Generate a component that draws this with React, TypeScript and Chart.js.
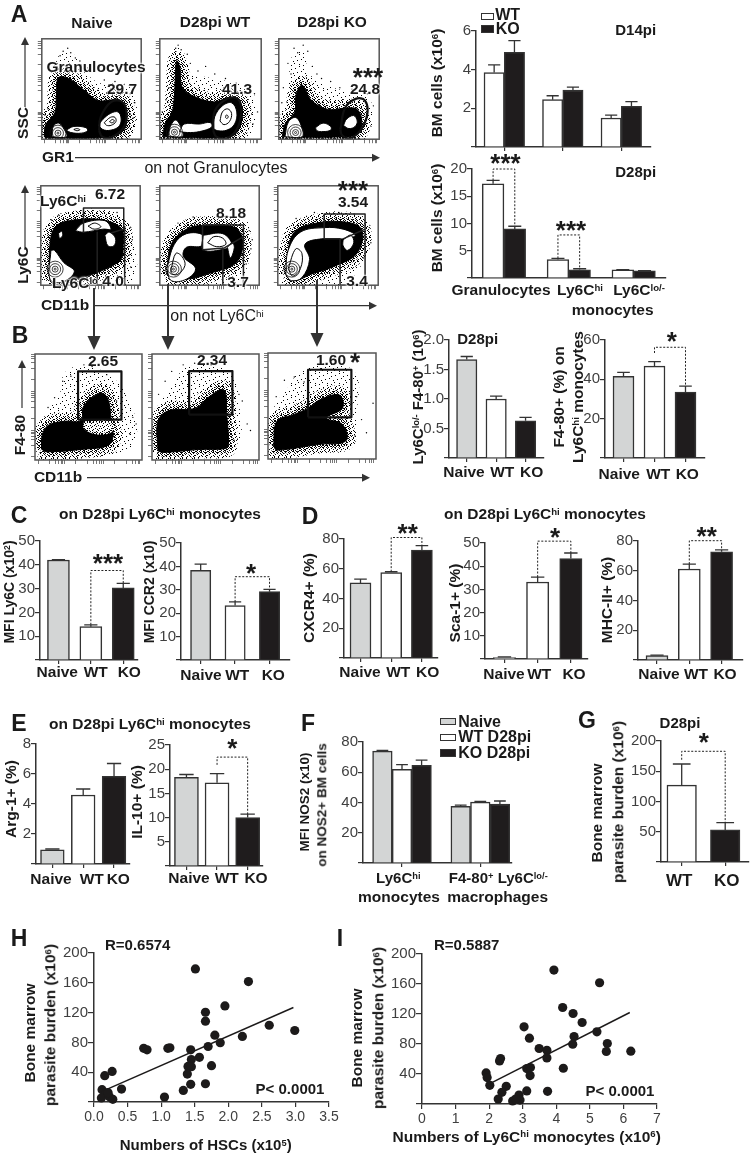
import { useEffect, useRef } from 'react';
import { Chart, registerables } from 'chart.js';
Chart.register(...registerables);
document.body.style.margin = '0';

const FONT = '"Liberation Sans", Arial, sans-serif';
const INK = '#333333';
const GREY = '#d3d5d5';
const WHITE = '#ffffff';
const BLACK = '#1f1c1d';

// ---------- bar data ----------
const cellCategories = ['Granulocytes', 'Ly6C^{hi}', 'Ly6C^{lo/-}'];
const groupCategories = ['Naive', 'WT', 'KO'];
const d14WT = [3.85, 2.45, 1.5];
const d14WTTop = [4.25, 2.65, 1.65];
const d14KO = [4.9, 2.95, 2.1];
const d14KOTop = [5.5, 3.1, 2.35];
const d28WT = [17.3, 3.4, 1.5];
const d28WTTop = [17.9, 3.6, 1.55];
const d28KO = [9, 1.5, 1.3];
const d28KOTop = [9.5, 1.7, 1.35];
const f480Count = [1.67, 1.0, 0.63];
const f480CountTop = [1.72, 1.05, 0.69];
const f480Pct = [41.5, 46.7, 33.5];
const f480PctTop = [43.5, 49, 36.5];
const mfiLy6c = [42, 14, 30.3];
const mfiLy6cTop = [42.2, 14.8, 32.2];
const mfiCcr2 = [38.3, 23.3, 29.2];
const mfiCcr2Top = [41, 24.8, 30.2];
const cxcr4 = [50.5, 57.5, 72.5];
const cxcr4Top = [53, 58, 75.5];
const sca1 = [0.6, 33.2, 43.3];
const sca1Top = [0.9, 35.3, 45.7];
const mhc2 = [3, 61.2, 72.7];
const mhc2Top = [3.3, 64.5, 74];
const arg1 = [0.95, 4.6, 5.85];
const arg1Top = [1.0, 5.0, 6.7];
const il10 = [18.3, 17.2, 10];
const il10Top = [18.9, 19.1, 10.7];
const nos2Categories = ['Ly6C^{hi}', 'F4-80^{+} Ly6C^{lo/-}'];
const nos2Naive = [74, 37.5];
const nos2NaiveTop = [74.5, 38.2];
const nos2WT = [62, 40.3];
const nos2WTTop = [65, 40.8];
const nos2KO = [64.5, 39];
const nos2KOTop = [68, 41];
const burdenCategories = ['WT', 'KO'];
const burden = [127, 53];
const burdenTop = [162, 65];

// ---------- scatter data ----------
const hscX = [1.51, 2.3, 1.95, 1.66, 1.66, 2.61, 2.99, 1.8, 2.21, 1.88, 1.7, 0.74, 0.79, 1.1, 1.13, 1.44, 1.57, 1.45, 1.4, 1.45, 1.75, 1.39, 0.27, 0.16, 1.44, 1.66, 1.33, 0.41, 1.05, 0.12, 0.18, 0.11, 0.23, 0.28, 0.21];
const hscY = [178.6, 161.6, 129, 120.5, 108.5, 103, 96, 89.7, 88, 79.5, 74.5, 72, 70, 72, 72.8, 70, 60, 57, 47.8, 47.3, 48.7, 37.5, 41, 35.3, 23.7, 24.5, 15.6, 17.4, 6.7, 16.5, 11.6, 5.4, 7, 3.6, 12.5];
const hscLineX = [0.19, 2.97];
const hscLineY = [17, 126.8];
const ly6cX = [3.93, 5.29, 4.19, 4.5, 4.77, 3.04, 5.21, 3.2, 4.53, 4.49, 5.52, 5.49, 6.22, 3.49, 3.72, 3.72, 2.34, 2.31, 4.21, 3.12, 3.23, 3.22, 1.91, 1.94, 2.02, 2.51, 2.38, 2.27, 3.12, 3.74, 2.89, 2.7, 2.92, 2.79];
const ly6cY = [178.6, 161.7, 128.7, 120.7, 108.7, 102.9, 96.2, 87.8, 90, 79.7, 80.6, 70, 70.4, 74, 71.7, 61.5, 60.6, 57.5, 47.7, 47.2, 48.6, 37.9, 41.4, 35.2, 24.9, 23.6, 15.6, 6.7, 17.4, 16.9, 12, 4, 5.3, 6.7];
const ly6cLineX = [2.08, 6.19];
const ly6cLineY = [28.5, 122];

// ---------- flow plots: outlines, in display channels ----------
type Shape = [string, number[]];
const flowTicks = [10, 45, 62, 72, 80, 85, 89, 125, 160, 178, 190, 198, 204, 209, 245, 280, 298, 308, 316, 321];
const gr1Naive: Shape[] = [
  ['s', [8, 28, 8, 68, 43, 138, 48, 203, 63, 263, 98, 268, 118, 228, 183, 173, 273, 168, 298, 108, 298, 38, 268, 3, 13, 3]],
  ['k', [8, 8, 13, 48, 43, 88, 48, 148, 55, 203, 88, 200, 133, 166, 183, 128, 218, 128, 253, 131, 276, 98, 271, 33, 223, 8, 33, 4]],
  ['w', [33, 8, 38, 43, 55, 53, 73, 33, 81, 8]],
  ['w', [80, 30, 105, 42, 145, 38, 150, 28, 130, 20, 95, 22]],
  ['l', [105, 32, 115, 35, 125, 31, 115, 28]],
  ['w', [185, 45, 200, 65, 225, 85, 250, 90, 260, 70, 255, 45, 235, 32, 205, 30]],
  ['l', [205, 55, 225, 72, 240, 72, 243, 58, 228, 46, 212, 46]],
  ['l', [222, 58, 232, 65, 238, 60, 230, 54]],
  ['e', [188, 28, 193, 73, 228, 123, 263, 123, 278, 88, 268, 38, 228, 6, 198, 8]],
];
const gr1NaiveDots = [70, 290, 85, 300, 60, 275, 95, 285, 110, 268, 130, 245, 150, 235, 205, 195, 240, 190, 270, 180, 290, 150, 305, 120, 300, 70, 20, 100, 10, 80, 125, 258];
const gr1WT: Shape[] = [
  ['s', [5, 18, 10, 48, 40, 108, 45, 228, 55, 288, 65, 288, 85, 213, 170, 188, 275, 163, 300, 128, 295, 38, 270, 3, 5, 3]],
  ['k', [10, 13, 20, 58, 40, 88, 48, 148, 55, 258, 65, 238, 75, 168, 120, 138, 180, 123, 230, 138, 265, 118, 265, 48, 230, 8, 10, 8]],
  ['w', [27, 10, 35, 43, 52, 63, 70, 38, 75, 10]],
  ['w', [65, 25, 80, 50, 130, 50, 165, 55, 170, 40, 130, 25, 90, 22]],
  ['w', [175, 35, 180, 75, 205, 110, 235, 120, 252, 90, 245, 50, 220, 30, 190, 28]],
  ['l', [197, 60, 205, 90, 222, 100, 235, 85, 228, 58, 210, 48]],
  ['l', [215, 72, 218, 80, 224, 75, 220, 68]],
  ['e', [175, 28, 180, 93, 220, 133, 255, 133, 267, 98, 255, 38, 220, 3, 185, 8]],
];
const gr1WTDots = [52, 300, 60, 310, 70, 295, 100, 250, 125, 225, 150, 240, 180, 215, 215, 200, 250, 185, 310, 150, 320, 90, 8, 90, 20, 130, 30, 170, 90, 280, 305, 50];
const gr1KO: Shape[] = [
  ['s', [5, 28, 17, 78, 42, 138, 52, 258, 72, 278, 87, 208, 172, 158, 232, 143, 282, 128, 297, 88, 282, 28, 222, 3, 5, 3]],
  ['k', [12, 13, 22, 53, 52, 88, 57, 148, 77, 178, 107, 128, 162, 98, 222, 103, 257, 98, 272, 58, 257, 18, 212, 8, 12, 8]],
  ['w', [20, 8, 32, 58, 57, 71, 77, 33, 77, 8]],
  ['w', [120, 38, 145, 53, 170, 42, 170, 30, 145, 25, 125, 28]],
  ['w', [212, 45, 222, 66, 245, 78, 257, 60, 250, 42, 230, 35]],
  ['e', [202, 33, 217, 103, 252, 133, 282, 128, 290, 83, 267, 28, 232, 3, 207, 13]],
];
const gr1KODots = [50, 300, 80, 310, 95, 290, 30, 250, 40, 215, 110, 240, 140, 200, 170, 190, 200, 170, 240, 165, 290, 150, 310, 110, 10, 120, 15, 170, 62, 285, 125, 215];
const ly6cNaive: Shape[] = [
  ['s', [25, 65, 35, 185, 75, 225, 175, 240, 245, 225, 285, 165, 285, 15, 35, 5]],
  ['k', [30, 15, 30, 135, 50, 195, 110, 215, 205, 215, 265, 185, 270, 125, 262, 85, 205, 50, 105, 18]],
  ['w', [33, 115, 30, 20, 70, 10, 110, 45, 75, 75, 45, 115]],
  ['w', [113, 180, 140, 205, 210, 213, 230, 185, 205, 185, 140, 175]],
  ['l', [155, 195, 175, 185, 197, 193, 177, 205]],
  ['w', [210, 165, 225, 175, 245, 155, 240, 130, 220, 130]],
  ['w', [58, 170, 68, 178, 72, 165, 62, 155]],
  ['g', [140, 175, 140, 255, 272, 255, 272, 185, 230, 172]],
  ['g', [185, 175, 185, 0, 275, 0, 275, 195]],
];
const ly6cNaiveDots = [300, 150, 295, 190, 60, 230, 35, 215, 250, 240, 290, 100, 295, 60];
const ly6cWT: Shape[] = [
  ['s', [18, 65, 38, 165, 88, 205, 178, 215, 273, 205, 288, 165, 273, 55, 228, 5, 48, 5]],
  ['k', [23, 35, 38, 135, 88, 185, 148, 197, 248, 190, 273, 145, 253, 75, 168, 40, 88, 20]],
  ['w', [23, 55, 48, 135, 88, 170, 143, 165, 138, 130, 88, 125, 78, 95, 118, 55, 88, 20, 38, 15]],
  ['l', [38, 55, 53, 105, 73, 95, 83, 65, 58, 35, 38, 40]],
  ['w', [143, 165, 208, 170, 238, 135, 218, 120, 143, 117]],
  ['l', [158, 140, 178, 160, 208, 155, 218, 135, 188, 127]],
  ['w', [223, 125, 238, 140, 246, 125, 233, 90]],
  ['g', [141, 117, 141, 199, 276, 199, 276, 160, 213, 123, 141, 117]],
  ['g', [208, 123, 208, 0, 276, 0, 276, 160]],
];
const ly6cWTDots = [295, 180, 300, 120, 285, 70, 60, 205, 110, 225, 240, 225, 305, 150];
const ly6cKO: Shape[] = [
  ['s', [24, 65, 39, 145, 74, 205, 174, 230, 274, 215, 294, 165, 264, 75, 204, 15, 54, 5]],
  ['k', [29, 35, 34, 115, 54, 175, 104, 200, 204, 210, 274, 185, 259, 105, 184, 62, 114, 38, 54, 15]],
  ['w', [26, 35, 34, 115, 74, 175, 154, 190, 214, 185, 254, 165, 219, 153, 144, 153, 89, 135, 104, 85, 79, 25, 44, 15]],
  ['l', [34, 55, 59, 120, 79, 105, 74, 55, 49, 30]],
  ['w', [214, 150, 239, 165, 249, 140, 229, 115, 214, 130]],
  ['g', [204, 153, 152, 153, 152, 235, 286, 235, 286, 185, 214, 153]],
  ['g', [204, 153, 204, 0, 286, 0, 286, 185]],
];
const ly6cKODots = [300, 190, 305, 140, 280, 90, 60, 220, 120, 240, 200, 240, 250, 235];
const f480Naive: Shape[] = [
  ['s', [20, 78, 45, 138, 85, 188, 105, 263, 185, 268, 255, 218, 290, 148, 295, 58, 235, 28, 20, 28]],
  ['k', [20, 33, 22, 75, 40, 105, 90, 118, 140, 120, 150, 165, 195, 203, 220, 193, 232, 138, 232, 100, 240, 78, 225, 45, 150, 33, 35, 25]],
  ['h', [150, 118, 235, 118, 235, 85, 190, 78, 150, 95]],
  ['e2', [132, 123, 132, 270, 265, 270, 265, 123, 132, 123]],
];
const f480NaiveDots = [110, 255, 150, 290, 175, 285, 220, 260, 250, 180, 300, 130, 310, 110, 290, 80, 40, 160, 20, 8, 60, 190, 85, 240];
const f480WT: Shape[] = [
  ['s', [18, 58, 23, 148, 73, 218, 113, 273, 233, 258, 253, 178, 243, 48, 18, 23]],
  ['k', [18, 28, 18, 118, 50, 150, 133, 158, 170, 190, 218, 213, 228, 133, 233, 48, 225, 35, 143, 32, 33, 23]],
  ['e2', [113, 138, 113, 271, 245, 271, 245, 138, 113, 138]],
];
const f480WTDots = [60, 270, 95, 290, 130, 295, 40, 240, 20, 200, 275, 180, 290, 110, 300, 90, 250, 60, 265, 200, 180, 290];
const f480KO: Shape[] = [
  ['s', [19, 45, 27, 145, 67, 205, 122, 270, 252, 260, 257, 135, 237, 45, 22, 30]],
  ['k', [17, 40, 27, 115, 77, 135, 122, 155, 157, 180, 217, 195, 227, 155, 177, 125, 227, 105, 237, 55, 157, 45, 27, 27]],
  ['e2', [122, 127, 122, 272, 254, 272, 254, 127, 122, 127]],
];
const f480KODots = [50, 240, 80, 250, 110, 235, 25, 190, 160, 275, 270, 190, 285, 120, 300, 80, 320, 170, 265, 70];

// ---------- helpers ----------
function zip(xs: number[], ys: number[]) {
  return xs.map((x, i) => ({ x, y: ys[i] }));
}
function pairs(f: number[]) {
  const out: { x: number; y: number }[] = [];
  for (let i = 0; i < f.length; i += 2) out.push({ x: f[i], y: f[i + 1] });
  return out;
}
function rich(s: string) {
  const parts = s.split(/\^\{(.*?)\}/);
  return parts.map((p, i) =>
    i % 2 ? (
      <sup key={i} style={{ fontSize: '.62em', verticalAlign: 'baseline', position: 'relative', top: '-.45em', lineHeight: 0 }}>{p}</sup>
    ) : (
      <span key={i}>{p}</span>
    ),
  );
}
function T({ x, y, s = 15.5, w = 'bold', r = false, c = '#1a1a1a', a = 'c', glow = false, children }: any) {
  const tr = a === 'l' ? 'translate(0,-50%)' : `translate(-50%,-50%)${r ? ' rotate(-90deg)' : ''}`;
  return (
    <div style={{ position: 'absolute', left: x, top: y, transform: tr, whiteSpace: 'nowrap', fontSize: s, fontWeight: w, lineHeight: 1, fontFamily: FONT, color: c, textShadow: glow ? '0 0 2px #fff, 0 0 2px #fff, 0 0 3px #fff, 0 0 3px #fff' : 'none' }}>
      {typeof children === 'string' ? rich(children) : children}
    </div>
  );
}
function Star({ x, y, n = 1 }: any) {
  return <T x={x} y={y + 6} s={26}>{'*'.repeat(n)}</T>;
}
function Swatch({ x, y, w, h, fill }: any) {
  return <div style={{ position: 'absolute', left: x, top: y, width: w, height: h, boxSizing: 'border-box', background: fill, border: `1.5px solid ${INK}` }} />;
}
function Plot({ left, top, width, height, make }: any) {
  const ref = useRef<HTMLCanvasElement>(null);
  useEffect(() => {
    const ch = new Chart(ref.current as HTMLCanvasElement, make(ref.current!.getContext('2d')));
    return () => ch.destroy();
  }, []);
  return <canvas ref={ref} width={width} height={height} style={{ position: 'absolute', left, top, width, height }} />;
}

// ---------- bar charts ----------
const errorBars = {
  id: 'errorBars',
  afterDatasetsDraw(chart: any) {
    const ctx = chart.ctx;
    const y = chart.scales.y;
    chart.data.datasets.forEach((ds: any, d: number) => {
      chart.getDatasetMeta(d).data.forEach((el: any, i: number) => {
        const py = y.getPixelForValue(ds.tops[i]);
        const cap = ds.barThickness * 0.3;
        ctx.save();
        ctx.strokeStyle = INK;
        ctx.lineWidth = 1.3;
        ctx.beginPath();
        ctx.moveTo(el.x, el.y);
        ctx.lineTo(el.x, py);
        ctx.moveTo(el.x - cap, py);
        ctx.lineTo(el.x + cap, py);
        ctx.stroke();
        ctx.restore();
      });
    });
  },
};
const brackets = {
  id: 'brackets',
  afterDatasetsDraw(chart: any, _a: any, opts: any) {
    const ctx = chart.ctx;
    const y = chart.scales.y;
    (opts.items || []).forEach((b: number[]) => {
      const [d1, i1, d2, i2, top, lo1, lo2] = b;
      const x1 = chart.getDatasetMeta(d1).data[i1].x;
      const x2 = chart.getDatasetMeta(d2).data[i2].x;
      ctx.save();
      ctx.strokeStyle = '#222';
      ctx.lineWidth = 1;
      ctx.setLineDash([2, 1.6]);
      ctx.beginPath();
      ctx.moveTo(x1, y.getPixelForValue(lo1));
      ctx.lineTo(x1, y.getPixelForValue(top));
      ctx.lineTo(x2, y.getPixelForValue(top));
      ctx.lineTo(x2, y.getPixelForValue(lo2));
      ctx.stroke();
      ctx.restore();
    });
  },
};
function Bars({ box, c0, sp, bar, ymax, step, dp = 0, series, tickAt, items = [] }: any) {
  const [l, t, r, b] = box;
  const ml = 38, mt = 16, mr = 5, mb = 8;
  const make = () => ({
    type: 'bar',
    data: {
      datasets: series.map((s: any) => ({
        data: s.v.map((v: number, i: number) => ({ x: i, y: v })),
        tops: s.top,
        backgroundColor: s.fill,
        borderColor: INK,
        borderWidth: 1.5,
        barThickness: bar,
      })),
    },
    options: {
      responsive: false,
      animation: false,
      devicePixelRatio: 1,
      layout: { padding: { top: mt, right: mr, left: 0, bottom: 0 } },
      plugins: { legend: { display: false }, tooltip: { enabled: false }, brackets: { items } },
      scales: {
        x: {
          type: 'linear',
          offset: false,
          min: (l - c0) / sp,
          max: (r - c0) / sp,
          afterBuildTicks: (s: any) => { s.ticks = tickAt.map((v: number) => ({ value: v })); },
          afterFit: (s: any) => { s.height = mb; },
          ticks: { display: false, autoSkip: false },
          grid: { drawOnChartArea: false, offset: false, tickLength: 4, color: INK, lineWidth: 1.2 },
          border: { color: INK, width: 1.5 },
        },
        y: {
          min: 0,
          max: ymax,
          afterFit: (s: any) => { s.width = ml; },
          ticks: {
            stepSize: step,
            autoSkip: false,
            padding: 0,
            color: '#3f3f3f',
            font: { family: FONT, size: 15 },
            callback: (v: number) => (v === 0 ? '' : v.toFixed(dp)),
          },
          grid: { drawOnChartArea: false, tickLength: 5, color: INK, lineWidth: 1.2 },
          border: { color: INK, width: 1.5 },
        },
      },
    },
    plugins: [errorBars, brackets],
  });
  return <Plot left={l - ml} top={t - mt} width={Math.round(r - l + ml + mr)} height={Math.round(b - t + mt + mb)} make={make} />;
}
function Trio({ v, top, ...rest }: any) {
  // one dataset, each bar with its own fill
  const series = [{ v, top, fill: [GREY, WHITE, BLACK] }];
  return <Bars series={series} tickAt={[0, 1, 2]} {...rest} />;
}

// ---------- scatter charts ----------
function Scatter({ box, xmax, xstep, dp, xs, ys, lx, ly }: any) {
  const [l, t, r, b] = box;
  const ml = 40, mt = 10, mr = 14, mb = 26;
  const make = () => ({
    type: 'scatter',
    data: {
      datasets: [
        { data: zip(xs, ys), pointRadius: 4.6, pointBackgroundColor: '#1c1a1a', pointBorderWidth: 0, clip: false },
        { type: 'line', data: zip(lx, ly), pointRadius: 0, borderColor: '#1c1a1a', borderWidth: 1.5, clip: false },
      ],
    },
    options: {
      responsive: false,
      animation: false,
      devicePixelRatio: 1,
      layout: { padding: { top: mt, right: mr, left: 0, bottom: 0 } },
      plugins: { legend: { display: false }, tooltip: { enabled: false } },
      scales: {
        x: {
          type: 'linear',
          min: 0,
          max: xmax,
          afterFit: (s: any) => { s.height = mb; },
          ticks: { stepSize: xstep, autoSkip: false, maxRotation: 0, padding: 2, color: '#3f3f3f', font: { family: FONT, size: 14 }, callback: (v: number) => v.toFixed(dp) },
          grid: { drawOnChartArea: false, tickLength: 5, color: INK, lineWidth: 1.2 },
          border: { color: INK, width: 1.5 },
        },
        y: {
          min: 0,
          max: 200,
          afterFit: (s: any) => { s.width = ml; },
          ticks: { stepSize: 40, autoSkip: false, padding: 0, color: '#3f3f3f', font: { family: FONT, size: 15 }, callback: (v: number) => (v === 0 ? '' : String(v)) },
          grid: { drawOnChartArea: false, tickLength: 6, color: INK, lineWidth: 1.2 },
          border: { color: INK, width: 1.5 },
        },
      },
    },
  });
  return <Plot left={l - ml} top={t - mt} width={Math.round(r - l + ml + mr)} height={Math.round(b - t + mt + mb)} make={make} />;
}

// ---------- flow plots ----------
const sparseTile = [1, 2, 5, 0, 9, 3, 3, 6, 7, 5, 11, 7, 0, 9, 5, 10, 9, 11];
const denseTile = [0, 0, 2, 1, 4, 0, 6, 2, 8, 1, 10, 0, 1, 3, 3, 4, 5, 3, 7, 4, 9, 3, 11, 4, 0, 6, 2, 5, 4, 7, 6, 6, 8, 7, 10, 6, 1, 9, 3, 8, 5, 10, 7, 9, 9, 8, 11, 10, 0, 11, 4, 11, 8, 10];
const heavyTile = [1, 0, 3, 0, 5, 1, 7, 0, 9, 1, 11, 1, 0, 2, 2, 3, 4, 2, 6, 4, 8, 3, 10, 2, 1, 5, 3, 6, 5, 5, 7, 6, 9, 5, 11, 6, 0, 8, 2, 7, 4, 9, 6, 8, 8, 9, 10, 8, 1, 11, 3, 10, 6, 10, 7, 11, 10, 11];
function tile(ctx: CanvasRenderingContext2D, pts: number[]) {
  const c = document.createElement('canvas');
  c.width = 12;
  c.height = 12;
  const x = c.getContext('2d') as CanvasRenderingContext2D;
  x.fillStyle = '#000';
  for (let i = 0; i < pts.length; i += 2) x.fillRect(pts[i], pts[i + 1], 1, 1);
  return ctx.createPattern(c, 'repeat');
}
const frame = {
  id: 'frame',
  afterDraw(chart: any) {
    const { left, top, right, bottom } = chart.chartArea;
    chart.ctx.save();
    chart.ctx.strokeStyle = '#555';
    chart.ctx.lineWidth = 1.5;
    chart.ctx.strokeRect(left, top, right - left, bottom - top);
    chart.ctx.restore();
  },
};
function Flow({ box, w, h, shapes, dots, eye }: any) {
  const [l, t, r, b] = box;
  const ml = 6, mt = 2, mr = 2, mb = 6;
  const make = (ctx: CanvasRenderingContext2D) => {
    const sp = tile(ctx, sparseTile);
    const dp = tile(ctx, denseTile);
    const hv = tile(ctx, denseTile.concat(heavyTile));
    const list: any[] = [
      { data: pairs(dots), showLine: false, pointRadius: 0.7, pointBackgroundColor: '#000', pointBorderWidth: 0 },
    ];
    shapes.forEach(([kind, f]: Shape) => {
      const open = kind === 'g';
      const pts = pairs(open ? f : f.concat([f[0], f[1]]));
      const base = { data: pts, pointRadius: 0, tension: kind === 'g' || kind === 'e2' ? 0 : 0.38, borderJoinStyle: 'round' };
      if (kind === 's') list.push({ ...base, fill: 'shape', backgroundColor: sp, borderColor: sp, borderWidth: 8 });
      if (kind === 'k') {
        list.push({ ...base, fill: false, borderColor: dp, borderWidth: 18 });
        list.push({ ...base, fill: false, borderColor: hv, borderWidth: 8 });
        list.push({ ...base, fill: 'shape', backgroundColor: '#000', borderColor: '#000', borderWidth: 1 });
      }
      if (kind === 'w') list.push({ ...base, fill: 'shape', backgroundColor: '#fff', borderColor: '#000', borderWidth: 1 });
      if (kind === 'h') {
        list.push({ ...base, fill: 'shape', backgroundColor: '#fff', borderColor: 'rgba(0,0,0,0)', borderWidth: 0 });
        list.push({ ...base, fill: 'shape', backgroundColor: dp, borderColor: hv, borderWidth: 4 });
      }
      if (kind === 'l') list.push({ ...base, fill: false, borderColor: '#000', borderWidth: 1 });
      if (kind === 'e' || kind === 'e2') list.push({ ...base, fill: false, borderColor: '#111', borderWidth: 2.2 });
      if (kind === 'g') list.push({ ...base, fill: false, borderColor: '#222', borderWidth: 1.5 });
    });
    if (eye) {
      list.push({
        data: [0, 1, 2, 3].map(() => ({ x: eye[0], y: eye[1] })),
        showLine: false,
        pointRadius: [8, 5.5, 3, 1],
        pointBackgroundColor: 'rgba(0,0,0,0)',
        pointBorderColor: '#111',
        pointBorderWidth: 0.8,
      });
    }
    return {
      type: 'line',
      data: { datasets: list.reverse() },
      options: {
        responsive: false,
        animation: false,
        devicePixelRatio: 1,
        layout: { padding: { top: mt, right: mr, left: 0, bottom: 0 } },
        plugins: { legend: { display: false }, tooltip: { enabled: false } },
        scales: {
          x: {
            type: 'linear', min: 0, max: w,
            afterBuildTicks: (s: any) => { s.ticks = flowTicks.map((v) => ({ value: v })); },
            afterFit: (s: any) => { s.height = mb; },
            ticks: { display: false, autoSkip: false },
            grid: { drawOnChartArea: false, tickLength: 4, color: '#555', lineWidth: 0.8 },
            border: { display: false },
          },
          y: {
            min: 0, max: h,
            afterBuildTicks: (s: any) => { s.ticks = flowTicks.map((v) => ({ value: v })); },
            afterFit: (s: any) => { s.width = ml; },
            ticks: { display: false, autoSkip: false },
            grid: { drawOnChartArea: false, tickLength: 4, color: '#555', lineWidth: 0.8 },
            border: { display: false },
          },
        },
      },
      plugins: [frame],
    };
  };
  return <Plot left={l - ml} top={t - mt} width={Math.round(r - l + ml + mr)} height={Math.round(b - t + mt + mb)} make={make} />;
}

function Arrow({ x1, y1, x2, y2, w = 1.2, hl = 8, hw = 4 }: any) {
  const dx = Math.sign(x2 - x1), dy = Math.sign(y2 - y1);
  const bx = x2 - dx * hl, by = y2 - dy * hl;
  const pts = `${x2},${y2} ${bx + dy * hw},${by + dx * hw} ${bx - dy * hw},${by - dx * hw}`;
  return (
    <g>
      <line x1={x1} y1={y1} x2={bx} y2={by} stroke="#333" strokeWidth={w} />
      <polygon points={pts} fill="#333" />
    </g>
  );
}
function Labels({ names, xs, y, s = 15.5 }: any) {
  return <>{names.map((n: string, i: number) => <T key={n} x={xs[i]} y={y} s={s}>{n}</T>)}</>;
}

export default function App() {
  return (
    <div style={{ position: 'relative', width: 750, height: 1155, overflow: 'hidden', background: '#fff' }}>
      {/* flow plots */}
      <Flow box={[39, 32.3, 147.7, 142.7]} w={326} h={331} shapes={gr1Naive} dots={gr1NaiveDots} eye={[53, 20]} />
      <Flow box={[156.7, 32.3, 267.3, 142.7]} w={332} h={331} shapes={gr1WT} dots={gr1WTDots} eye={[48, 23]} />
      <Flow box={[276, 32.3, 385.7, 142.7]} w={329} h={331} shapes={gr1KO} dots={gr1KODots} eye={[55, 22]} />
      <Flow box={[38.3, 179, 147, 288.3]} w={326} h={328} shapes={ly6cNaive} dots={ly6cNaiveDots} eye={[47, 53]} />
      <Flow box={[157.3, 179, 266.7, 288.3]} w={328} h={328} shapes={ly6cWT} dots={ly6cWTDots} eye={[45, 53]} />
      <Flow box={[275.3, 179, 385, 288.3]} w={329} h={328} shapes={ly6cKO} dots={ly6cKODots} eye={[46, 53]} />
      <Flow box={[35, 351.7, 144.3, 459.3]} w={328} h={323} shapes={f480Naive} dots={f480NaiveDots} />
      <Flow box={[152.3, 351.7, 261, 459.3]} w={326} h={323} shapes={f480WT} dots={f480WTDots} />
      <Flow box={[267.7, 350.7, 377.3, 458.3]} w={329} h={323} shapes={f480KO} dots={f480KODots} />

      <svg width={750} height={1155} style={{ position: 'absolute', left: 0, top: 0, pointerEvents: 'none' }}>
        <Arrow x1={25} y1={107} x2={25} y2={37} />
        <Arrow x1={75} y1={157.7} x2={380} y2={157.7} />
        <Arrow x1={25} y1={250} x2={25} y2={185} />
        <Arrow x1={95} y1={305.7} x2={377} y2={305.7} />
        <Arrow x1={94} y1={288} x2={94} y2={350} w={2} hl={14} hw={6.5} />
        <Arrow x1={168} y1={284} x2={168} y2={350} w={2} hl={14} hw={6.5} />
        <Arrow x1={317} y1={280} x2={317} y2={347} w={2} hl={14} hw={6.5} />
        <Arrow x1={22} y1={408} x2={22} y2={360} />
        <Arrow x1={87} y1={477.7} x2={370} y2={477.7} />
      </svg>

      {/* panel letters */}
      <T x={19} y={14} s={23}>A</T>
      <T x={20} y={335} s={23}>B</T>
      <T x={19} y={515} s={23}>C</T>
      <T x={310} y={516} s={23}>D</T>
      <T x={19} y={723} s={23}>E</T>
      <T x={308} y={723} s={23}>F</T>
      <T x={587} y={720} s={23}>G</T>
      <T x={19} y={938} s={23}>H</T>
      <T x={340} y={938} s={23}>I</T>

      {/* flow text */}
      <T x={92} y={23}>Naive</T>
      <T x={215} y={22}>D28pi WT</T>
      <T x={332} y={22}>D28pi KO</T>
      <T x={96} y={67} glow>Granulocytes</T>
      <T x={122} y={89} glow>29.7</T>
      <T x={237} y={89} glow>41.3</T>
      <T x={365} y={89} glow>24.8</T>
      <Star x={368} y={71} n={3} />
      <T x={23} y={123} r>SSC</T>
      <T x={58} y={157}>GR1</T>
      <T x={216} y={168.3} s={16} w="normal">on not Granulocytes</T>
      <T x={23} y={265} r>Ly6C</T>
      <T x={63} y={201} glow>{'Ly6C^{hi}'}</T>
      <T x={110} y={194} glow>6.72</T>
      <T x={75} y={283} glow>{'Ly6C^{lo}'}</T>
      <T x={113} y={281} glow>4.0</T>
      <T x={231} y={213} glow>8.18</T>
      <T x={238} y={282} glow>3.7</T>
      <Star x={353} y={184} n={3} />
      <T x={353} y={202} glow>3.54</T>
      <T x={357} y={281} glow>3.4</T>
      <T x={65} y={305}>CD11b</T>
      <T x={217} y={316} s={16} w="normal">{'on not Ly6C^{hi}'}</T>
      <T x={103} y={360.7}>2.65</T>
      <T x={212} y={360}>2.34</T>
      <T x={331} y={360}>1.60</T>
      <Star x={355} y={356} />
      <T x={20} y={435} r>F4-80</T>
      <T x={58} y={477}>CD11b</T>

      {/* A bars */}
      <Bars box={[475.7, 30.5, 650.7, 147]} c0={504} sp={58.5} bar={20.3} ymax={6} step={2} tickAt={[0, 1, 2]}
        series={[{ v: d14WT, top: d14WTTop, fill: WHITE }, { v: d14KO, top: d14KOTop, fill: BLACK }]} />
      <Bars box={[472.3, 169.3, 666.7, 279]} c0={504.3} sp={65} bar={21.7} ymax={20} step={5} tickAt={[]}
        series={[{ v: d28WT, top: d28WTTop, fill: WHITE }, { v: d28KO, top: d28KOTop, fill: BLACK }]}
        items={[[0, 0, 1, 0, 20, 17.9, 9.5], [0, 1, 1, 1, 7.9, 3.6, 1.7]]} />
      <Swatch x={481} y={12.7} w={13} h={7.5} fill={WHITE} />
      <Swatch x={481} y={25} w={13} h={7.5} fill={BLACK} />
      <T x={507.7} y={15} s={16}>WT</T>
      <T x={507.7} y={29} s={16}>KO</T>
      <T x={635.7} y={29} s={15}>D14pi</T>
      <T x={635.7} y={170.7} s={15}>D28pi</T>
      <T x={436.7} y={83} r>{'BM cells (x10^{6})'}</T>
      <T x={436.7} y={218} r>{'BM cells (x10^{6})'}</T>
      <Star x={505.5} y={157} n={3} />
      <Star x={571} y={224} n={3} />
      <Labels names={cellCategories} xs={[501, 580, 639]} y={290} s={15.5} />
      <T x={612.7} y={310}>monocytes</T>

      {/* B bars */}
      <Trio box={[448.7, 340, 544, 458.7]} c0={466.5} sp={29.5} bar={20.4} ymax={2} step={0.5} dp={1} v={f480Count} top={f480CountTop} />
      <Trio box={[605, 340, 705, 458.7]} c0={623.5} sp={31} bar={21} ymax={60} step={20} v={f480Pct} top={f480PctTop}
        items={[[0, 1, 0, 2, 56.3, 53.4, 36.5]]} />
      <T x={477.7} y={337.7} s={15}>D28pi</T>
      <T x={417.3} y={397} s={15} r>{'Ly6C^{lo/-} F4-80^{+} (10^{6})'}</T>
      <T x={559} y={397} r>F4-80+ (%) on</T>
      <T x={578.3} y={397} r>{'Ly6C^{hi} monocytes'}</T>
      <Labels names={groupCategories} xs={[464, 502.3, 531.7]} y={472.3} />
      <Labels names={groupCategories} xs={[619.3, 658.3, 687.3]} y={474} />
      <Star x={671.7} y={335} />

      {/* C */}
      <T x={160} y={514.3}>{'on D28pi Ly6C^{hi} monocytes'}</T>
      <Trio box={[40, 540.7, 138.3, 660.3]} c0={58.5} sp={32.5} bar={22} ymax={50} step={10} v={mfiLy6c} top={mfiLy6cTop}
        items={[[0, 1, 0, 2, 37.6, 14.8, 32.2]]} />
      <Trio box={[180.7, 543.3, 289.3, 661.3]} c0={200.3} sp={34.3} bar={20.3} ymax={50} step={10} v={mfiCcr2} top={mfiCcr2Top}
        items={[[0, 1, 0, 2, 35.6, 24.8, 30.2]]} />
      <T x={9} y={591.7} s={14} r>{'MFI Ly6C (x10^{2})'}</T>
      <T x={149} y={591.7} s={14} r>MFI CCR2 (x10)</T>
      <Labels names={groupCategories} xs={[57.3, 95.7, 129.3]} y={672.3} />
      <Labels names={groupCategories} xs={[201, 237.3, 273.3]} y={675} />
      <Star x={108} y={557} n={3} />
      <Star x={251} y={567} />

      {/* D */}
      <T x={545} y={514.3}>{'on D28pi Ly6C^{hi} monocytes'}</T>
      <Trio box={[344.3, 539.3, 438.3, 659]} c0={360.8} sp={30.7} bar={21} ymax={80} step={20} v={cxcr4} top={cxcr4Top}
        items={[[0, 1, 0, 2, 81, 58, 75.5]]} />
      <Trio box={[485, 543.3, 588.3, 660.7]} c0={504.5} sp={33.3} bar={22.3} ymax={50} step={10} v={sca1} top={sca1Top}
        items={[[0, 1, 0, 2, 50.8, 35.3, 45.7]]} />
      <Trio box={[638.3, 540.7, 743.3, 660.7]} c0={657.3} sp={32.3} bar={22} ymax={80} step={20} v={mhc2} top={mhc2Top}
        items={[[0, 1, 0, 2, 80.2, 64.5, 74]]} />
      <T x={309} y={598} r>CXCR4+ (%)</T>
      <T x={455} y={603.3} r>Sca-1+ (%)</T>
      <T x={607.3} y={600} r>MHC-II+ (%)</T>
      <Labels names={groupCategories} xs={[360, 398.3, 427.7]} y={672.3} />
      <Labels names={groupCategories} xs={[504, 539.3, 574]} y={674} />
      <Labels names={groupCategories} xs={[659, 696, 725]} y={674} />
      <Star x={407.7} y={527} n={2} />
      <Star x={555} y={531} />
      <Star x={706.7} y={530} n={2} />

      {/* E */}
      <T x={150} y={724.3}>{'on D28pi Ly6C^{hi} monocytes'}</T>
      <Trio box={[35.7, 744.3, 129.3, 865.7]} c0={52} sp={30.7} bar={23.7} ymax={8} step={2} v={arg1} top={arg1Top} />
      <Trio box={[170, 745, 263.3, 866.7]} c0={186.5} sp={30.7} bar={24} ymax={25} step={5} v={il10} top={il10Top}
        items={[[0, 1, 0, 2, 22.5, 20.9, 10.7]]} />
      <T x={11} y={799.3} r>Arg-1+ (%)</T>
      <T x={136.7} y={802.3} r>IL-10+ (%)</T>
      <Labels names={groupCategories} xs={[51, 91.7, 118.3]} y={879} />
      <Labels names={groupCategories} xs={[189, 226.7, 256]} y={877.7} />
      <Star x={232.3} y={742} />

      {/* F */}
      <Bars box={[362.7, 742.3, 511.7, 864]} c0={401.7} sp={78.3} bar={19.6} ymax={80} step={20} tickAt={[0, 1]}
        series={[{ v: nos2Naive, top: nos2NaiveTop, fill: GREY }, { v: nos2WT, top: nos2WTTop, fill: WHITE }, { v: nos2KO, top: nos2KOTop, fill: BLACK }]} />
      <Swatch x={440.3} y={717.7} w={15.7} h={7.6} fill={GREY} />
      <Swatch x={440.3} y={733.7} w={15.7} h={7.6} fill={WHITE} />
      <Swatch x={440.3} y={749.3} w={15.7} h={7.6} fill={BLACK} />
      <T x={458.3} y={721.7} s={16} a="l">Naive</T>
      <T x={458.3} y={737.3} s={16} a="l">WT D28pi</T>
      <T x={458.3} y={753.3} s={16} a="l">KO D28pi</T>
      <T x={305} y={801.7} s={13.5} r>MFI NOS2 (x10)</T>
      <T x={321.7} y={805} s={13.5} r>on NOS2+ BM cells</T>
      <Labels names={nos2Categories} xs={[398.3, 498.3]} y={877.3} s={15} />
      <T x={399} y={896.7} s={15.5}>monocytes</T>
      <T x={497.7} y={896.7} s={15.5}>macrophages</T>

      {/* G */}
      <Bars box={[661, 741, 749, 863]} c0={681.7} sp={43.5} bar={29.5} ymax={200} step={50} tickAt={[0, 1]}
        series={[{ v: burden, top: burdenTop, fill: [WHITE, BLACK] }]}
        items={[[0, 0, 0, 1, 183, 169, 65]]} />
      <T x={680} y={721.7} s={15}>D28pi</T>
      <T x={596.7} y={813.3} r>Bone marrow</T>
      <T x={617.7} y={801.7} r>{'parasite burden (x10^{6})'}</T>
      <Labels names={burdenCategories} xs={[679.3, 726.7]} y={880} s={17} />
      <Star x={703.7} y={736} />

      {/* H */}
      <Scatter box={[94, 953.3, 328.7, 1102.7]} xmax={3.5} xstep={0.5} dp={1} xs={hscX} ys={hscY} lx={hscLineX} ly={hscLineY} />
      <T x={137.7} y={944.3} s={15}>R=0.6574</T>
      <T x={290} y={1088.3} s={15}>{'P< 0.0001'}</T>
      <T x={30} y={1033} r>Bone marrow</T>
      <T x={50} y={1025} r>{'parasite burden (x10^{6})'}</T>
      <T x={205.7} y={1144} s={15}>{'Numbers of HSCs (x10^{5})'}</T>

      {/* I */}
      <Scatter box={[421.7, 954.3, 657, 1104]} xmax={7} xstep={1} dp={0} xs={ly6cX} ys={ly6cY} lx={ly6cLineX} ly={ly6cLineY} />
      <T x={466.7} y={944.3} s={15}>R=0.5887</T>
      <T x={620} y={1090} s={15}>{'P< 0.0001'}</T>
      <T x={357.3} y={1038} r>Bone marrow</T>
      <T x={377.7} y={1028} r>{'parasite burden (x10^{6})'}</T>
      <T x={526.7} y={1136.7} s={15.5}>{'Numbers of Ly6C^{hi} monocytes (x10^{6})'}</T>
    </div>
  );
}
